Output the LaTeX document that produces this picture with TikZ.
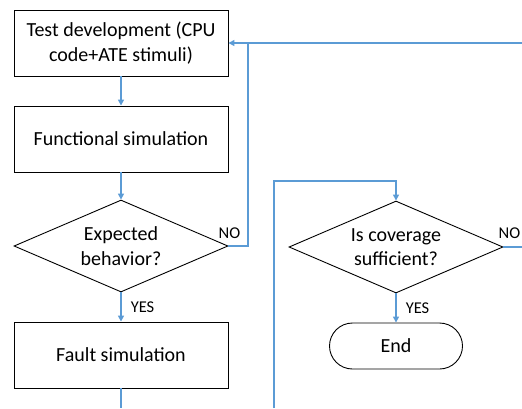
\documentclass[tikz,border=0pt]{standalone}
\usepackage{fontspec}
\setmainfont{Carlito}
\usetikzlibrary{shapes.geometric,arrows.meta}
\definecolor{flowblue}{RGB}{91,155,213}
\begin{document}
\begin{tikzpicture}[x=1pt, y=-1pt,
    every node/.style={font=\fontsize{20}{24.5}\selectfont, align=center},
    procbox/.style={draw, line width=0.9pt, minimum width=214pt, minimum height=66pt, inner sep=0pt},
    decision/.style={draw, diamond, line width=0.9pt, aspect=2.33, minimum width=214pt, minimum height=92pt, inner sep=0pt},
    terminal/.style={draw, line width=0.9pt, rounded corners=23pt, minimum width=133pt, minimum height=46pt, inner sep=0pt},
    flowline/.style={draw=flowblue, line width=1.5pt},
    flow/.style={flowline, -{Triangle[length=6pt,width=6pt]}},
    answer/.style={font=\fontsize{16.5}{19}\selectfont, inner sep=0pt}]
    \useasboundingbox (0,0) rectangle (522,408);

    % Left column
    \node[procbox] (dev) at (121,43) {Test development (CPU\\code+ATE stimuli)};
    \node[procbox] (func) at (121,139) {Functional simulation};
    \node[decision] (expect) at (121,246) {Expected\\behavior?};
    \node[procbox] (fault) at (121,355) {Fault simulation};

    % Right column
    \node[decision] (cover) at (396,247) {Is coverage\\sufficient?};
    \node[terminal] (end) at (396,346) {End};

    % Loose ends at the picture border
    \coordinate (noturn) at (248,43);
    \coordinate (rightin) at (522,43);
    \coordinate (faultout) at (121,408);
    \coordinate (loopin) at (274,408);
    \coordinate (loopturn) at (274,181);
    \coordinate (coverout) at (522,247);

    % Connectors
    \draw[flow] (dev) -- (func);
    \draw[flow] (func) -- (expect);
    \draw[flow] (expect) -- (fault) node[answer, anchor=west, pos=0.5, xshift=9pt] {YES};
    \draw[flow] (expect.east) -| (noturn) -- (dev.east);
    \draw[flowline] (rightin) -- (noturn);
    \draw[flowline] (fault) -- (faultout);
    \draw[flow] (loopin) -- (loopturn) -| (cover.north);
    \draw[flowline] (cover.east) -- (coverout);
    \draw[flow] (cover) -- (end) node[answer, anchor=west, pos=0.5, xshift=9pt] {YES};

    % NO labels
    \node[answer, anchor=base west] (expectno) at ([xshift=-10pt, yshift=8pt]expect.east) {NO};
    \node[answer, anchor=base west] (coverno) at ([xshift=-5pt, yshift=9pt]cover.east) {NO};
\end{tikzpicture}
\end{document}
